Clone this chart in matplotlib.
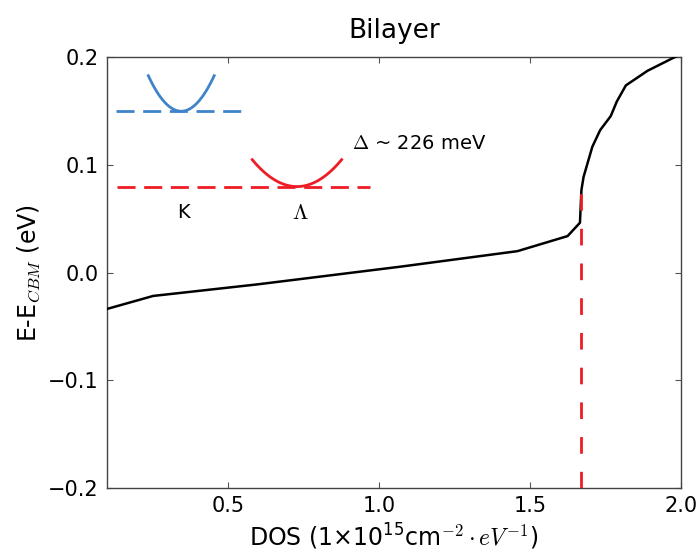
import numpy as np
import matplotlib
matplotlib.use('Agg')
import matplotlib.pyplot as plt

plt.rcParams['mathtext.fontset'] = 'cm'
plt.rcParams['font.family'] = 'DejaVu Sans'

# DOS vs energy, bilayer
dos = [0.10, 0.253, 0.60, 1.072, 1.459, 1.625, 1.666, 1.671, 1.678, 1.707,
       1.733, 1.768, 1.788, 1.818, 1.89, 1.978, 2.0]
energy = [-0.0337, -0.0216, -0.0108, 0.0056, 0.020, 0.034, 0.0464, 0.077,
          0.089, 0.117, 0.1325, 0.1455, 0.159, 0.174, 0.1876, 0.2, 0.203]

# onset of the Lambda valley states
dos_onset = 1.670
onset_top = 0.085

# band edges for the inset sketch
k_edge = 0.150
lam_edge = 0.080
k_center, k_halfwidth, k_depth = 0.346, 0.109, 0.033
lam_center, lam_halfwidth, lam_depth = 0.729, 0.148, 0.025
k_line = [0.13, 0.563]
lam_line = [0.132, 0.972]

blue = '#3f83c9'
red = '#ee1c25'

fig = plt.figure(figsize=(6.99, 5.52), dpi=100)
ax = fig.add_axes([0.153, 0.116, 0.821, 0.780])

ax.plot(dos, energy, color='black', lw=1.8, zorder=3)
ax.plot([dos_onset, dos_onset], [-0.2, onset_top], color=red, lw=2,
        dashes=(6.0, 6.5), zorder=4)

# K valley (blue) and Lambda valley (red) sketches
ax.plot(k_line, [k_edge, k_edge], color=blue, lw=2, dashes=(6.5, 3.1))
t = np.linspace(-1, 1, 60)
ax.plot(k_center + k_halfwidth * t, k_edge + k_depth * t**2, color=blue, lw=2)
ax.plot(lam_line, [lam_edge, lam_edge], color=red, lw=2, dashes=(6.5, 3.1))
ax.plot(lam_center + lam_halfwidth * t, lam_edge + lam_depth * t**2, color=red, lw=2)

ax.text(0.352, 0.056, 'K', fontsize=14, ha='center', va='center')
ax.text(0.74, 0.055, r'$\Lambda$', fontsize=16, ha='center', va='center')
ax.text(0.91, 0.120, r'$\Delta$ ~ 226 meV', fontsize=14, ha='left', va='center')

ax.set_xlim(0.1, 2.0)
ax.set_ylim(-0.2, 0.2)
ax.set_xticks([0.5, 1.0, 1.5, 2.0])
ax.set_yticks([-0.2, -0.1, 0.0, 0.1, 0.2])
ax.tick_params(direction='in', top=True, right=True, labelsize=15,
               length=4, color='#555555', pad=6)
for s in ax.spines.values():
    s.set_color('#444444')
    s.set_linewidth(1.0)

ax.set_title('Bilayer', fontsize=19, pad=14)
ax.set_xlabel(r'DOS ($\mathregular{1{\times}10^{15}}$cm$^{-2}\cdot eV^{-1}$)', fontsize=17)
ax.set_ylabel(r'E-E$_{CBM}$ (eV)', fontsize=17)

fig.savefig('out.png', dpi=100)
